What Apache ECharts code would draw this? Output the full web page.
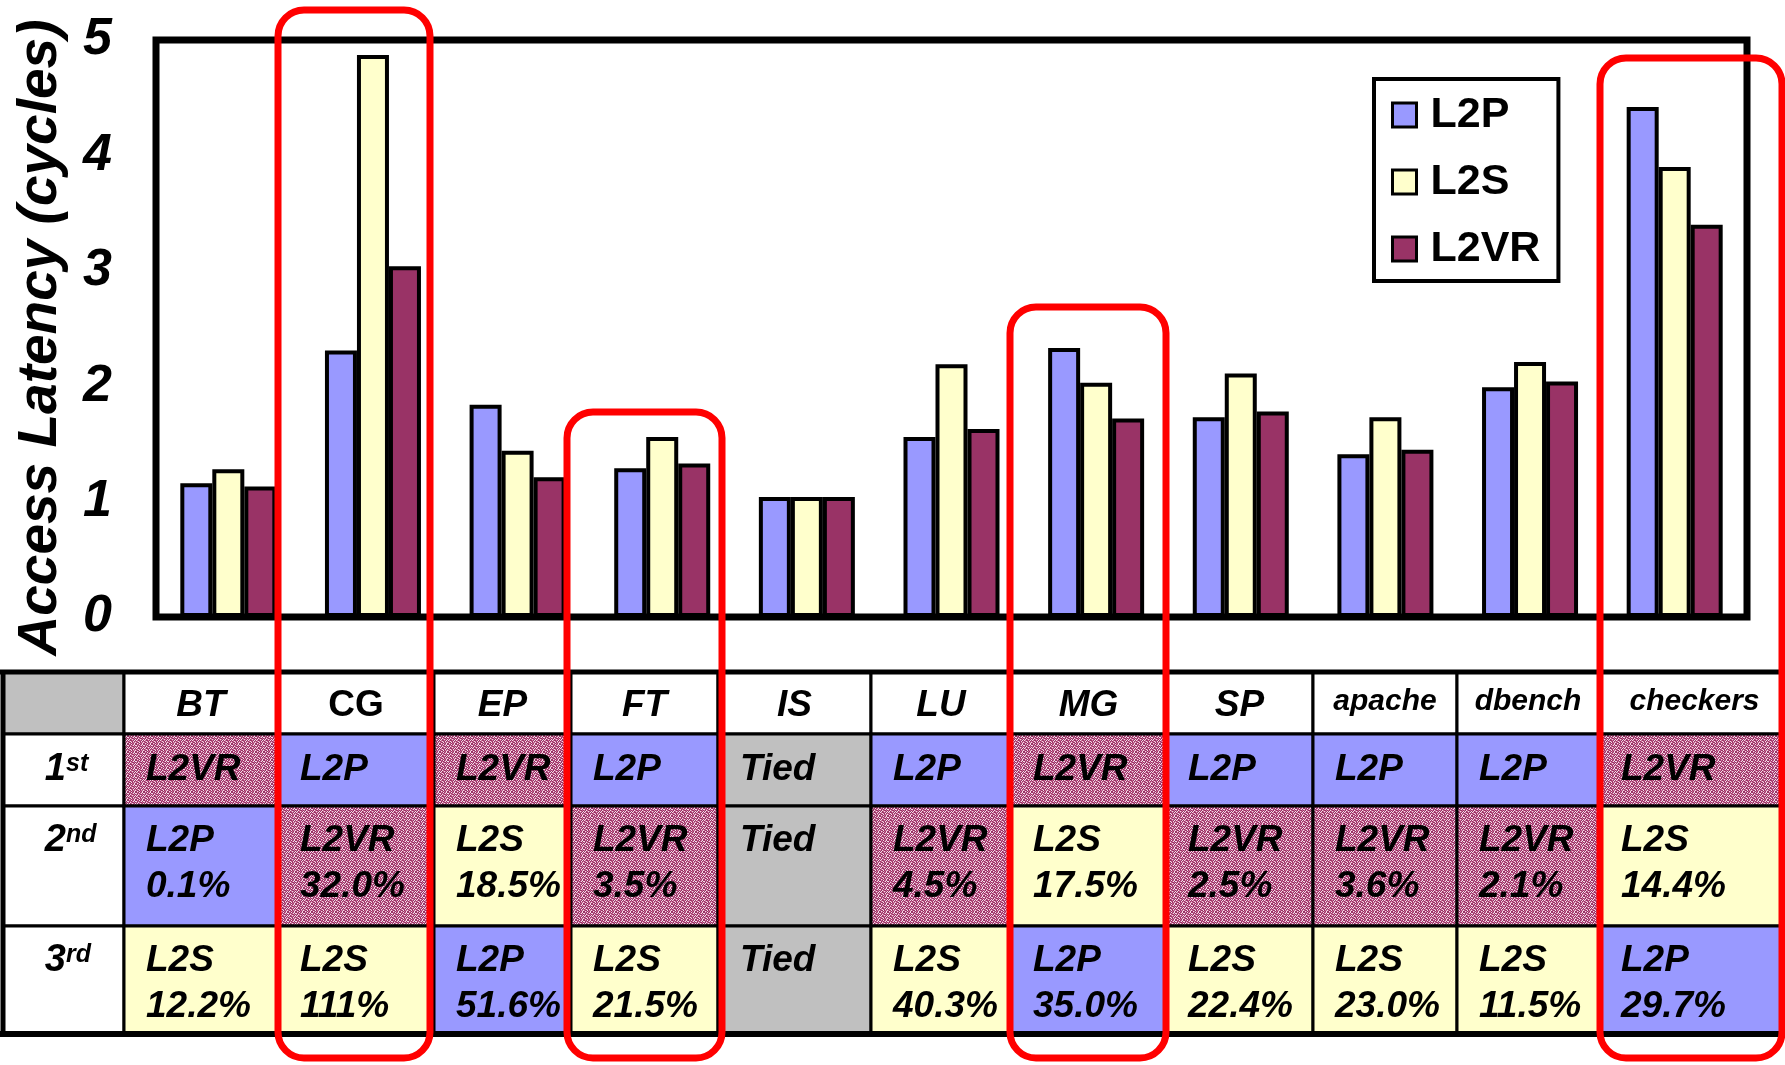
<!DOCTYPE html>
<html>
<head>
<meta charset="utf-8">
<script src="https://cdn.jsdelivr.net/npm/echarts@6/dist/echarts.min.js"></script>
<style>
  html, body { margin: 0; padding: 0; background: #ffffff; }
  #chart { width: 1785px; height: 1065px; }
</style>
</head>
<body>
<div id="chart"></div>
<script>
// ---- data -------------------------------------------------------------
const benchmarks = ['BT', 'CG', 'EP', 'FT', 'IS', 'LU', 'MG', 'SP', 'apache', 'dbench', 'checkers'];
const latencyL2P  = [1.16, 2.31, 1.84, 1.29, 1.04, 1.56, 2.33, 1.73, 1.41, 1.99, 4.42];
const latencyL2S  = [1.28, 4.87, 1.44, 1.56, 1.04, 2.19, 2.03, 2.11, 1.73, 2.21, 3.90];
const latencyL2VR = [1.13, 3.04, 1.21, 1.33, 1.04, 1.63, 1.72, 1.78, 1.45, 2.04, 3.40];
const yTicks = [0, 1, 2, 3, 4, 5];

const rankFirst  = ['L2VR', 'L2P', 'L2VR', 'L2P', 'Tied', 'L2P', 'L2VR', 'L2P', 'L2P', 'L2P', 'L2VR'];
const rankSecond = ['L2P', 'L2VR', 'L2S', 'L2VR', 'Tied', 'L2VR', 'L2S', 'L2VR', 'L2VR', 'L2VR', 'L2S'];
const pctSecond  = ['0.1%', '32.0%', '18.5%', '3.5%', '', '4.5%', '17.5%', '2.5%', '3.6%', '2.1%', '14.4%'];
const rankThird  = ['L2S', 'L2S', 'L2P', 'L2S', 'Tied', 'L2S', 'L2P', 'L2S', 'L2S', 'L2S', 'L2P'];
const pctThird   = ['12.2%', '111%', '51.6%', '21.5%', '', '40.3%', '35.0%', '22.4%', '23.0%', '11.5%', '29.7%'];
const rankLabels = [['1', 'st'], ['2', 'nd'], ['3', 'rd']];
const highlighted = ['CG', 'FT', 'MG', 'checkers'];

// ---- layout & style ---------------------------------------------------
const FONT = '"Liberation Sans", Arial, Helvetica, sans-serif';
const COLORS = { L2P: '#9999FF', L2S: '#FFFFCC', L2VR: '#993366', Tied: '#C0C0C0' };
const colEdges = [3, 124, 278, 434, 571, 718, 871, 1011, 1166, 1313, 1457, 1599, 1790];
const rowEdges = [672, 734, 806, 926, 1034];
const highlightBoxes = {
  CG: { x0: 278, x1: 430, top: 10 },
  FT: { x0: 567, x1: 722, top: 412 },
  MG: { x0: 1010, x1: 1166, top: 307 },
  checkers: { x0: 1600, x1: 1782, top: 58 }
};
const boxBottom = 1058;

// stippled fill used for L2VR table cells
function makeStipple() {
  const map = [
    '01020120',
    '20101202',
    '10210010',
    '02012102',
    '21001020',
    '01210201',
    '10020112',
    '02101020'
  ];
  const shades = ['#993366', '#C86A96', '#F4DCE8'];
  const cv = document.createElement('canvas');
  cv.width = 8; cv.height = 8;
  const ctx = cv.getContext('2d');
  for (let y = 0; y < 8; y++) {
    for (let x = 0; x < 8; x++) {
      ctx.fillStyle = shades[+map[y][x]];
      ctx.fillRect(x, y, 1, 1);
    }
  }
  return { image: cv, repeat: 'repeat' };
}
const stipple = makeStipple();

function cellFill(name) {
  if (name === 'L2VR') return stipple;
  return COLORS[name] || '#FFFFFF';
}

// table cells: col 0 = row labels, cols 1..11 = benchmarks; row 0 = header
const cells = [];
cells.push({ col: 0, row: 0, fill: COLORS.Tied, kind: 'blank' });
rankLabels.forEach((r, i) => cells.push({ col: 0, row: i + 1, fill: '#FFFFFF', kind: 'rank', num: r[0], sup: r[1] }));
benchmarks.forEach((b, i) => {
  const c = i + 1;
  cells.push({ col: c, row: 0, fill: '#FFFFFF', kind: 'header', text: b });
  cells.push({ col: c, row: 1, fill: cellFill(rankFirst[i]), kind: 'one', text: rankFirst[i] });
  cells.push({ col: c, row: 2, fill: cellFill(rankSecond[i]), kind: 'two', text: rankSecond[i], pct: pctSecond[i] });
  cells.push({ col: c, row: 3, fill: cellFill(rankThird[i]), kind: 'two', text: rankThird[i], pct: pctThird[i] });
});

const cellFont = 'italic bold 37px ' + FONT;

function txt(x, y, text, font, align) {
  return {
    type: 'text',
    style: { x: x, y: y, text: text, font: font, fill: '#000', align: align, verticalAlign: 'middle' }
  };
}

function renderCell(params, api) {
  const cell = cells[params.dataIndex];
  const a = api.coord([colEdges[cell.col], rowEdges[cell.row]]);
  const b = api.coord([colEdges[cell.col + 1], rowEdges[cell.row + 1]]);
  const x = a[0], y = a[1], w = b[0] - a[0], h = b[1] - a[1];
  const children = [{
    type: 'rect',
    shape: { x: x, y: y, width: w, height: h },
    style: { fill: cell.fill, stroke: '#000', lineWidth: 3 }
  }];
  const padL = 22;
  if (cell.kind === 'header') {
    const small = cell.text.length > 3;
    const f = (cell.text === 'CG' ? 'bold ' : 'italic bold ') + (small ? 30 : 37) + 'px ' + FONT;
    children.push(txt(x + w / 2, y + h / 2 + (small ? -1 : 3), cell.text, f, 'center'));
  } else if (cell.kind === 'rank') {
    const cy = cell.row === 1 ? y + h / 2 : y + 35;
    const split = x + 63;
    children.push(txt(split, cy, cell.num, 'italic bold 38px ' + FONT, 'right'));
    children.push(txt(split, cy - 6, cell.sup, 'italic bold 25px ' + FONT, 'left'));
  } else if (cell.kind === 'one') {
    children.push(txt(x + padL, y + h / 2, cell.text, cellFont, 'left'));
  } else if (cell.kind === 'two') {
    children.push(txt(x + padL, y + 35, cell.text, cellFont, 'left'));
    if (cell.pct) children.push(txt(x + padL, y + 81, cell.pct, cellFont, 'left'));
  }
  return { type: 'group', children: children };
}

// red outlines around the highlighted benchmarks
const graphics = highlighted.map(name => {
  const bx = highlightBoxes[name];
  return {
    type: 'rect',
    z: 100,
    shape: { x: bx.x0, y: bx.top, width: bx.x1 - bx.x0, height: boxBottom - bx.top, r: 26 },
    style: { fill: 'none', stroke: '#FF0000', lineWidth: 7 }
  };
});
// heavier outer rules of the table
graphics.push(
  { type: 'line', z: 50, shape: { x1: 0, y1: rowEdges[0], x2: 1785, y2: rowEdges[0] }, style: { stroke: '#000', lineWidth: 5 } },
  { type: 'line', z: 50, shape: { x1: 0, y1: rowEdges[4], x2: 1785, y2: rowEdges[4] }, style: { stroke: '#000', lineWidth: 6 } },
  { type: 'line', z: 50, shape: { x1: colEdges[0], y1: rowEdges[0], x2: colEdges[0], y2: rowEdges[4] }, style: { stroke: '#000', lineWidth: 5 } }
);

function barSeries(name, values) {
  return {
    name: name,
    type: 'bar',
    xAxisIndex: 0,
    yAxisIndex: 0,
    data: values,
    barWidth: 32,
    barGap: '0%',
    itemStyle: { color: COLORS[name], borderColor: '#000', borderWidth: 4 },
    emphasis: { disabled: true },
    z: 3
  };
}

const chart = echarts.init(document.getElementById('chart'), null, { renderer: 'canvas' });
chart.setOption({
  animation: false,
  backgroundColor: '#ffffff',
  textStyle: { fontFamily: FONT },
  grid: [
    { left: 156, right: 38, top: 40, bottom: 448, show: true, borderColor: '#000', borderWidth: 7, backgroundColor: 'transparent' },
    { left: 0, right: 0, top: 0, bottom: 0, show: false }
  ],
  xAxis: [
    { type: 'category', gridIndex: 0, data: benchmarks, axisLine: { show: false }, axisTick: { show: false }, axisLabel: { show: false } },
    { type: 'value', gridIndex: 1, min: 0, max: 1785, show: false }
  ],
  yAxis: [
    {
      type: 'value', gridIndex: 0, min: yTicks[0], max: yTicks[yTicks.length - 1], interval: 1,
      splitLine: { show: false }, axisLine: { show: false }, axisTick: { show: false },
      axisLabel: { fontSize: 52, fontWeight: 'bold', fontStyle: 'italic', color: '#000', margin: 44, fontFamily: FONT },
      name: 'Access Latency (cycles)', nameLocation: 'middle', nameRotate: 90, nameGap: 88,
      nameTextStyle: { fontSize: 55, fontWeight: 'bold', fontStyle: 'italic', color: '#000', fontFamily: FONT, padding: [0, 18, 0, 0] }
    },
    { type: 'value', gridIndex: 1, min: 0, max: 1065, inverse: true, show: false }
  ],
  legend: {
    orient: 'vertical', left: 1374, top: 79,
    padding: [14, 18, 10, 17],
    itemWidth: 24, itemHeight: 24, itemGap: 23,
    borderColor: '#000', borderWidth: 4, backgroundColor: '#fff',
    icon: 'rect', selectedMode: false,
    itemStyle: { borderColor: '#000', borderWidth: 3 },
    textStyle: { fontSize: 43, fontWeight: 'bold', color: '#000', fontFamily: FONT, lineHeight: 44, padding: [0, 0, 0, 9] },
    data: ['L2P', 'L2S', 'L2VR']
  },
  series: [
    barSeries('L2P', latencyL2P),
    barSeries('L2S', latencyL2S),
    barSeries('L2VR', latencyL2VR),
    {
      type: 'custom',
      xAxisIndex: 1,
      yAxisIndex: 1,
      data: cells.map(c => [c.col, c.row]),
      renderItem: renderCell,
      silent: true,
      clip: false,
      z: 2
    }
  ],
  graphic: graphics
});
</script>
</body>
</html>
